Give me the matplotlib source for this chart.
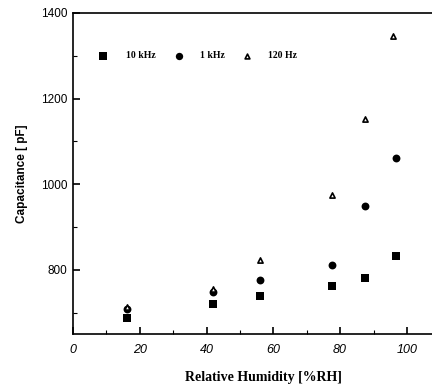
import matplotlib
matplotlib.use("Agg")
import matplotlib.pyplot as plt
from matplotlib.ticker import MultipleLocator

# relative humidity (%RH) at which each frequency was measured
rh = [16.2, 42.0, 55.9, 77.6, 87.5, 96.7]
rh_120 = [16.2, 42.0, 55.9, 77.6, 87.5, 95.9]

cap_10khz = [687, 721, 738, 761, 780, 832]
cap_1khz = [708, 748, 775, 812, 948, 1061]
cap_120hz = [713, 756, 823, 974, 1152, 1346]

legend_x = [9.0, 31.8, 52.0]
legend_y = 1300
legend_labels = ["10 kHz", "1 kHz", "120 Hz"]

xticks = [0, 20, 40, 60, 80, 100]
yticks = [800, 1000, 1200, 1400]

fig = plt.figure(figsize=(4.32, 3.89), dpi=100)
ax = fig.add_axes([0.169, 0.1414, 0.831 + 0.05, 0.8252])

ax.scatter(rh, cap_10khz, marker="s", s=30, color="black", linewidths=0)
ax.scatter(rh, cap_1khz, marker="o", s=32, color="black", linewidths=0)
ax.scatter(rh_120, cap_120hz, marker="^", s=14, facecolor="white",
           edgecolor="black", linewidths=1.2)

# in-plot key
ax.scatter(legend_x[0], legend_y, marker="s", s=26, color="black", linewidths=0)
ax.scatter(legend_x[1], legend_y, marker="o", s=28, color="black", linewidths=0)
ax.scatter(legend_x[2], legend_y, marker="^", s=12, facecolor="white",
           edgecolor="black", linewidths=1.2)
for lx, lab in zip([16.0, 38.0, 58.5], legend_labels):
    ax.text(lx, legend_y, lab, fontsize=7, fontweight="bold",
            family="Liberation Serif", va="center", ha="left")

ax.set_xlim(0, 107.5 + 0.05 * 432 / 3.34)
ax.set_ylim(650, 1400)
ax.set_xticks(xticks)
ax.set_yticks(yticks)
ax.xaxis.set_minor_locator(MultipleLocator(10))
ax.yaxis.set_minor_locator(MultipleLocator(100))
ax.tick_params(which="both", direction="in", top=False, right=False)
ax.tick_params(which="major", length=5, width=1.2)
ax.tick_params(which="minor", length=3, width=0.8)
ax.spines["right"].set_visible(False)
for sp in ax.spines.values():
    sp.set_linewidth(1.2)

for lbl in ax.get_xticklabels():
    lbl.set_fontstyle("italic")
    lbl.set_family("Liberation Sans")
    lbl.set_fontsize(9)
for lbl in ax.get_yticklabels():
    lbl.set_family("Liberation Sans")
    lbl.set_fontsize(8.5)
ax.tick_params(axis="x", pad=7)
ax.tick_params(axis="y", pad=4)

ax.set_xlabel("Relative Humidity [%RH]", fontsize=10, fontweight="bold",
              family="Liberation Serif", labelpad=11)
ax.set_ylabel("Capacitance [ pF]", fontsize=8.5, fontweight="bold",
              family="Liberation Sans", labelpad=9)

fig.savefig("out.png", dpi=100)
